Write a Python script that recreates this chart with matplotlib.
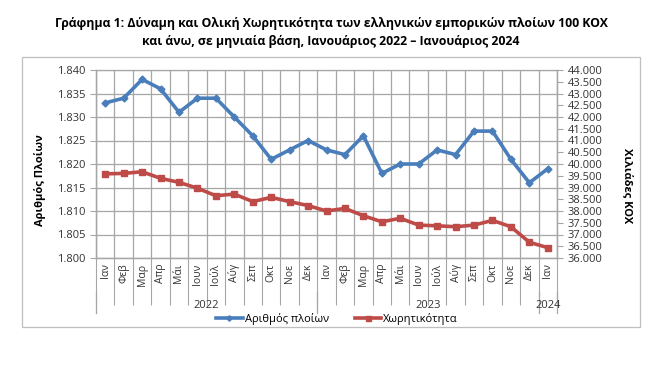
import matplotlib
matplotlib.use("Agg")
import matplotlib.pyplot as plt
import matplotlib.transforms as mtransforms
from matplotlib.patches import Rectangle
from matplotlib.ticker import FuncFormatter, MultipleLocator

plt.rcParams['font.family'] = ['Open Sans', 'DejaVu Sans']

months = ['Ιαν', 'Φεβ', 'Μαρ', 'Απρ', 'Μάι', 'Ιουν', 'Ιούλ', 'Αύγ', 'Σεπ', 'Οκτ', 'Νοε', 'Δεκ',
          'Ιαν', 'Φεβ', 'Μαρ', 'Απρ', 'Μάι', 'Ιουν', 'Ιούλ', 'Αύγ', 'Σεπ', 'Οκτ', 'Νοε', 'Δεκ',
          'Ιαν']
years = ['2022', '2023', '2024']
year_spans = [(0, 11), (12, 23), (24, 24)]

ships = [1833, 1834, 1838, 1836, 1831, 1834, 1834, 1830, 1826, 1821, 1823, 1825,
         1823, 1822, 1826, 1818, 1820, 1820, 1823, 1822, 1827, 1827, 1821, 1816,
         1819]
capacity = [39580, 39600, 39670, 39390, 39220, 38970, 38650, 38720, 38400, 38580, 38400, 38230,
            38000, 38110, 37800, 37540, 37690, 37400, 37370, 37330, 37400, 37600, 37330, 36670,
            36440]

blue = '#4A7EBB'
red = '#BE4B48'
grid_c = '#A6A6A6'

fig = plt.figure(figsize=(6.65, 3.77), dpi=100)
W, H = 665, 377
ax = fig.add_axes([96 / W, 1 - 258 / H, (557 - 96) / W, (258 - 70) / H])
ax2 = ax.twinx()

x = list(range(len(months)))
ax.plot(x, ships, color=blue, lw=2.6, marker='D', ms=3.5, label='Αριθμός πλοίων', zorder=3)
ax2.plot(x, capacity, color=red, lw=2.6, marker='s', ms=4.5, label='Χωρητικότητα', zorder=3)

thousands = FuncFormatter(lambda v, p: f"{int(round(v)):,}".replace(',', '.'))

ax.set_xlim(-0.5, len(months) - 0.5)
ax.set_ylim(1800, 1840)
ax.yaxis.set_major_locator(MultipleLocator(5))
ax.yaxis.set_major_formatter(thousands)
ax2.set_ylim(36000, 44000)
ax2.yaxis.set_major_locator(MultipleLocator(500))
ax2.yaxis.set_major_formatter(thousands)

ax.set_xticks(x)
ax.set_xticklabels(months, rotation=90, fontsize=7.5, color='#333333')
ax.tick_params(axis='x', which='major', length=0, pad=4)
ax.set_xticks([i - 0.5 for i in range(len(months) + 1)], minor=True)
ax.tick_params(axis='x', which='minor', length=34, color=grid_c, width=0.8)
ax.grid(True, which='minor', axis='x', color=grid_c, lw=0.9)
ax.grid(True, which='major', axis='y', color=grid_c, lw=0.9)
ax.set_axisbelow(True)

ax.tick_params(axis='y', labelsize=8, length=4, color=grid_c, labelcolor='#333333')
ax2.tick_params(axis='y', labelsize=8, length=4, color=grid_c, labelcolor='#333333')
for a in (ax, ax2):
    for s in a.spines.values():
        s.set_color(grid_c)
        s.set_linewidth(0.9)
ax2.spines['top'].set_visible(False)

ax.set_ylabel('Αριθμός Πλοίων', fontsize=8, fontweight='bold', va='center')
ax.yaxis.set_label_coords((40 - 96) / (557 - 96), (258 - 180) / (258 - 70))
ax2.set_ylabel('Χιλιάδες ΚΟΧ', fontsize=8, fontweight='bold', rotation=-90, va='center')
ax2.yaxis.set_label_coords((627 - 96) / (557 - 96), (258 - 186) / (258 - 70))

# year grouping row
trans = mtransforms.blended_transform_factory(ax.transData, ax.transAxes)
for yr, (a, b) in zip(years, year_spans):
    ax.text((a + b) / 2, -0.25, yr, transform=trans, ha='center', va='center',
            fontsize=8, color='#333333')
for xb in [-0.5, 11.5, 23.5, 24.5]:
    ax.plot([xb, xb], [-0.18, -0.29], transform=trans, color=grid_c, lw=0.9, clip_on=False)

h1, l1 = ax.get_legend_handles_labels()
h2, l2 = ax2.get_legend_handles_labels()
fig.legend(h1 + h2, l1 + l2, loc='center', bbox_to_anchor=(337 / W, 1 - 319 / H), ncol=2,
           frameon=False, fontsize=8, handlelength=2.4, columnspacing=2.3, handletextpad=0.2,
           markerscale=0.8)

fig.text(331 / W, 1 - 23 / H, 'Γράφημα 1: Δύναμη και Ολική Χωρητικότητα των ελληνικών εμπορικών πλοίων 100 ΚΟΧ',
         ha='center', va='center', fontsize=8.8, fontweight='bold')
fig.text(331 / W, 1 - 41 / H, 'και άνω, σε μηνιαία βάση, Ιανουάριος 2022 – Ιανουάριος 2024',
         ha='center', va='center', fontsize=8.8, fontweight='bold')

fig.patches.append(Rectangle((22 / W, 1 - 327 / H), (640 - 22) / W, (327 - 57) / H,
                             transform=fig.transFigure, fill=False, edgecolor='#BFBFBF', lw=0.9))

fig.savefig('out.png', dpi=100)
